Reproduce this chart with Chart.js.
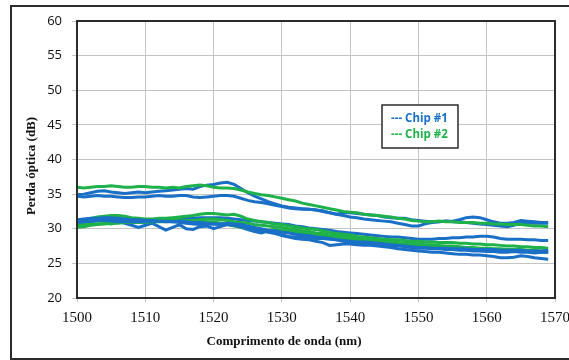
<!DOCTYPE html>
<html>
<head>
<meta charset="utf-8">
<script src="https://cdn.jsdelivr.net/npm/chart.js@4.4.1/dist/chart.umd.min.js"></script>
<style>
  html, body { margin: 0; padding: 0; background: #fff; }
  #wrap { width: 569px; height: 360px; }
</style>
</head>
<body>
<div id="wrap"><canvas id="myChart" width="569" height="360"></canvas></div>
<script>
// comprimento de onda (nm), passo de 1 nm
const wavelengths = [
  1500, 1501, 1502, 1503, 1504, 1505, 1506, 1507, 1508, 1509,
  1510, 1511, 1512, 1513, 1514, 1515, 1516, 1517, 1518, 1519,
  1520, 1521, 1522, 1523, 1524, 1525, 1526, 1527, 1528, 1529,
  1530, 1531, 1532, 1533, 1534, 1535, 1536, 1537, 1538, 1539,
  1540, 1541, 1542, 1543, 1544, 1545, 1546, 1547, 1548, 1549,
  1550, 1551, 1552, 1553, 1554, 1555, 1556, 1557, 1558, 1559,
  1560, 1561, 1562, 1563, 1564, 1565, 1566, 1567, 1568, 1569
];

// Chip #1 (azul)
const chip1a = [
  34.9, 35.0, 35.2, 35.4, 35.5, 35.3, 35.2, 35.1, 35.2, 35.3,
  35.2, 35.3, 35.4, 35.5, 35.6, 35.7, 35.8, 35.7, 36.1, 36.3,
  36.4, 36.6, 36.7, 36.4, 35.8, 35.2, 34.7, 34.3, 33.9, 33.6,
  33.3, 33.1, 33.0, 32.9, 32.8, 32.7, 32.5, 32.3, 32.1, 31.9,
  31.7, 31.6, 31.4, 31.3, 31.2, 31.1, 31.0, 30.8, 30.6, 30.4,
  30.4, 30.7, 30.9, 31.0, 31.1, 31.1, 31.3, 31.6, 31.7, 31.6,
  31.3, 31.0, 30.8, 30.8, 30.9, 31.2, 31.1, 31.0, 30.9, 30.9
];
const chip1b = [
  34.7, 34.6, 34.7, 34.8, 34.7, 34.7, 34.6, 34.5, 34.5, 34.6,
  34.6, 34.7, 34.8, 34.7, 34.7, 34.8, 34.8, 34.6, 34.5, 34.6,
  34.7, 34.8, 34.8, 34.7, 34.4, 34.1, 33.9, 33.8, 33.6, 33.4,
  33.2, 33.0, 32.9, 32.8, 32.8, 32.7, 32.6, 32.3, 32.1, 32.3,
  32.3, 32.2, 32.1, 32.0, 31.9, 31.7, 31.6, 31.5, 31.5, 31.3,
  31.2, 31.1, 31.0, 31.0, 31.1, 31.0, 31.0, 30.9, 30.8, 30.7,
  30.6, 30.5, 30.4, 30.3, 30.5, 30.8, 30.9, 30.8, 30.8, 30.8
];
const chip1c = [
  31.0, 31.1, 31.2, 31.3, 31.3, 31.3, 31.2, 31.1, 31.2, 31.2,
  31.2, 31.3, 31.3, 31.4, 31.4, 31.4, 31.5, 31.5, 31.6, 31.6,
  31.6, 31.6, 31.5, 31.4, 31.3, 31.2, 31.1, 31.0, 30.9, 30.8,
  30.7, 30.6, 30.4, 30.3, 30.1, 30.0, 29.9, 29.8, 29.6, 29.5,
  29.4, 29.3, 29.2, 29.1, 29.0, 28.9, 28.8, 28.8, 28.7, 28.6,
  28.5, 28.5, 28.5, 28.6, 28.6, 28.7, 28.7, 28.8, 28.8, 28.9,
  28.9, 28.8, 28.6, 28.5, 28.5, 28.5, 28.4, 28.4, 28.3, 28.3
];
const chip1d = [
  30.6, 30.8, 31.0, 31.1, 31.2, 31.2, 31.0, 30.8, 30.5, 30.2,
  30.5, 30.8, 30.3, 29.8, 30.2, 30.6, 30.0, 29.9, 30.3, 30.4,
  30.0, 30.3, 30.6, 30.5, 30.2, 29.9, 29.6, 29.4, 29.7, 29.4,
  29.0, 28.8, 28.6, 28.5, 28.4, 28.2, 28.0, 27.6, 27.7, 27.8,
  27.8, 27.7, 27.6, 27.6, 27.5, 27.4, 27.3, 27.1, 27.0, 26.9,
  26.8, 26.7, 26.6, 26.6, 26.5, 26.4, 26.3, 26.3, 26.2, 26.2,
  26.1, 26.0, 25.8, 25.8, 25.9, 26.1, 26.0, 25.8, 25.7, 25.6
];
const chip1e = [
  31.3, 31.4, 31.5, 31.5, 31.6, 31.6, 31.5, 31.4, 31.3, 31.3,
  31.2, 31.2, 31.1, 31.1, 31.0, 30.9, 30.8, 30.7, 30.6, 30.6,
  30.7, 30.7, 30.8, 30.7, 30.6, 30.4, 30.2, 30.0, 29.8, 29.7,
  29.5, 29.4, 29.2, 29.1, 29.0, 28.8, 28.7, 28.6, 28.4, 28.3,
  28.2, 28.1, 28.1, 28.0, 27.9, 27.8, 27.7, 27.6, 27.4, 27.3,
  27.2, 27.2, 27.1, 27.1, 27.0, 27.0, 26.9, 26.9, 26.8, 26.8,
  26.7, 26.7, 26.6, 26.6, 26.7, 26.6, 26.6, 26.5, 26.6, 26.6
];
const chip1f = [
  30.9, 31.0, 31.1, 31.2, 31.2, 31.1, 31.0, 31.0, 31.0, 31.0,
  31.0, 31.1, 31.1, 31.0, 31.0, 31.1, 31.0, 30.9, 30.9, 30.8,
  30.7, 30.6, 30.6, 30.5, 30.3, 30.1, 29.9, 29.7, 29.5, 29.3,
  29.1, 28.9, 28.8, 28.8, 28.7, 28.6, 28.6, 28.5, 28.4, 28.2,
  28.0, 27.9, 27.9, 27.8, 27.8, 27.7, 27.6, 27.5, 27.5, 27.4,
  27.3, 27.3, 27.2, 27.2, 27.2, 27.1, 27.1, 27.1, 27.0, 27.0,
  27.0, 27.0, 26.9, 26.9, 26.9, 26.9, 26.8, 26.8, 26.8, 26.9
];

// Chip #2 (verde)
const chip2a = [
  36.0, 35.9, 36.0, 36.1, 36.1, 36.2, 36.1, 36.0, 36.0, 36.1,
  36.1, 36.0, 36.0, 35.9, 36.0, 35.9, 36.1, 36.2, 36.3, 36.2,
  36.0, 35.9, 35.9, 35.8, 35.6, 35.3, 35.1, 34.9, 34.8, 34.6,
  34.4, 34.2, 34.0, 33.7, 33.5, 33.3, 33.1, 32.9, 32.7, 32.5,
  32.4, 32.3, 32.1, 32.0, 31.9, 31.8, 31.7, 31.5, 31.4, 31.2,
  31.1, 31.0, 31.0, 31.1, 31.0, 31.0, 30.9, 30.9, 30.9, 30.8,
  30.8, 30.7, 30.7, 30.6, 30.6, 30.6, 30.5, 30.4, 30.4, 30.3
];
const chip2b = [
  30.9, 31.2, 31.5, 31.7, 31.8, 31.9, 31.9, 31.8, 31.6, 31.5,
  31.4, 31.4, 31.5, 31.5, 31.6, 31.7, 31.8, 31.9, 32.1, 32.2,
  32.2, 32.1, 32.0, 32.1, 31.8, 31.4, 31.2, 31.0, 30.9, 30.7,
  30.6, 30.4, 30.3, 30.1, 30.0, 29.9, 29.7, 29.5, 29.3, 29.2,
  29.1, 28.9, 28.8, 28.7, 28.6, 28.5, 28.4, 28.4, 28.3, 28.2,
  28.2, 28.1, 28.1, 28.0, 28.0, 28.0, 27.9, 27.9, 27.8, 27.8,
  27.7, 27.7, 27.6, 27.5, 27.5, 27.4, 27.4, 27.3, 27.3, 27.2
];
const chip2c = [
  30.2, 30.3, 30.5, 30.6, 30.7, 30.8, 30.8, 30.9, 30.9, 30.9,
  30.9, 31.0, 31.0, 31.0, 31.1, 31.1, 31.2, 31.2, 31.3, 31.4,
  31.4, 31.3, 31.2, 31.0, 30.9, 30.8, 30.6, 30.5, 30.4, 30.3,
  30.2, 30.0, 29.9, 29.7, 29.6, 29.4, 29.3, 29.1, 29.0, 28.9,
  28.8, 28.7, 28.6, 28.5, 28.4, 28.2, 28.1, 28.0, 27.9, 27.9,
  27.8, 27.7, 27.7, 27.6, 27.5, 27.5, 27.4, 27.3, 27.3, 27.2,
  27.2, 27.1, 27.1, 27.0, 27.0, 27.0, 26.9, 26.9, 26.8, 26.8
];
const chip2d = [
  30.5, 30.6, 30.7, 30.7, 30.8, 30.7, 30.9, 31.0, 31.1, 31.1,
  31.2, 31.3, 31.3, 31.4, 31.4, 31.3, 31.2, 31.2, 31.1, 31.0,
  31.0, 30.8, 30.6, 30.4, 30.2, 30.1, 29.9, 29.8, 29.8, 29.9,
  29.8, 29.7, 29.5, 29.4, 29.2, 29.1, 29.0, 28.8, 28.7, 28.6,
  28.5, 28.4, 28.3, 28.2, 28.1, 28.0, 27.9, 27.8, 27.7, 27.6,
  27.5, 27.5, 27.4, 27.3, 27.3, 27.2, 27.1, 27.1, 27.0, 27.0,
  26.9, 26.9, 26.8, 26.8, 26.7, 26.7, 26.7, 26.6, 26.6, 26.6
];

const xTicks = [1500, 1510, 1520, 1530, 1540, 1550, 1560, 1570];
const yTicks = [20, 25, 30, 35, 40, 45, 50, 55, 60];
const legendNames = ['--- Chip #1', '--- Chip #2'];

const blue = '#1a6fc6';
const green = '#1fb24a';

function toPoints(values) {
  return wavelengths.map(function (w, i) { return { x: w, y: values[i] }; });
}

function trace(values, color) {
  return {
    data: toPoints(values),
    borderColor: color,
    borderWidth: 3,
    pointRadius: 0,
    tension: 0,
    fill: false
  };
}

// moldura, borda do gráfico, legenda e títulos dos eixos
const extras = {
  id: 'extras',
  afterDraw: function (chart) {
    const c = chart.ctx;
    const a = chart.chartArea;
    c.save();
    c.strokeStyle = '#2b2b2b';
    c.lineWidth = 2;
    c.strokeRect(11, 6, 570, 353);
    c.strokeRect(a.left, a.top, a.right - a.left, a.bottom - a.top);

    // legenda
    c.fillStyle = '#fff';
    c.fillRect(382, 105, 76, 43);
    c.lineWidth = 1.5;
    c.strokeRect(382, 105, 76, 43);
    c.font = 'bold 11.5px "Open Sans"';
    c.textBaseline = 'middle';
    c.textAlign = 'left';
    c.fillStyle = blue;
    c.fillText(legendNames[0], 391, 119);
    c.fillStyle = green;
    c.fillText(legendNames[1], 391, 135);

    // títulos
    c.fillStyle = '#111';
    c.font = 'bold 13px "Liberation Serif"';
    c.textAlign = 'center';
    c.fillText('Comprimento de onda (nm)', 284, 342);
    c.translate(32, 166);
    c.rotate(-Math.PI / 2);
    c.fillText('Perda óptica (dB)', 0, 0);
    c.restore();
  }
};

const ctx = document.getElementById('myChart');

new Chart(ctx, {
  type: 'line',
  data: {
    datasets: [
      trace(chip2a, green),
      trace(chip1b, blue),
      trace(chip1a, blue),
      trace(chip1e, blue),
      trace(chip1f, blue),
      trace(chip2b, green),
      trace(chip2c, green),
      trace(chip2d, green),
      trace(chip1c, blue),
      trace(chip1d, blue)
    ]
  },
  options: {
    responsive: false,
    animation: false,
    layout: { padding: { left: 0, top: 21, right: 14, bottom: 0 } },
    plugins: {
      legend: { display: false },
      tooltip: { enabled: false }
    },
    scales: {
      x: {
        type: 'linear',
        min: 1500,
        max: 1570,
        afterBuildTicks: function (scale) {
          scale.ticks = xTicks.map(function (v) { return { value: v }; });
        },
        afterFit: function (scale) {
          scale.height = 62;
          scale.paddingLeft = 0;
          scale.paddingRight = 0;
        },
        grid: { color: '#c4c4c4', lineWidth: 1, tickLength: 4 },
        border: { display: false },
        ticks: {
          padding: 7,
          maxRotation: 0,
          color: '#111',
          font: { family: 'Liberation Serif', size: 15 },
          callback: function (v) { return String(v); }
        }
      },
      y: {
        min: 20,
        max: 60,
        afterBuildTicks: function (scale) {
          scale.ticks = yTicks.map(function (v) { return { value: v }; });
        },
        afterFit: function (scale) {
          scale.width = 77;
          scale.paddingTop = 0;
          scale.paddingBottom = 0;
        },
        grid: { color: '#c4c4c4', lineWidth: 1, tickLength: 5 },
        border: { display: false },
        ticks: {
          padding: 10,
          color: '#111',
          font: { family: 'Open Sans', size: 13 }
        }
      }
    }
  },
  plugins: [extras]
});
</script>
</body>
</html>
